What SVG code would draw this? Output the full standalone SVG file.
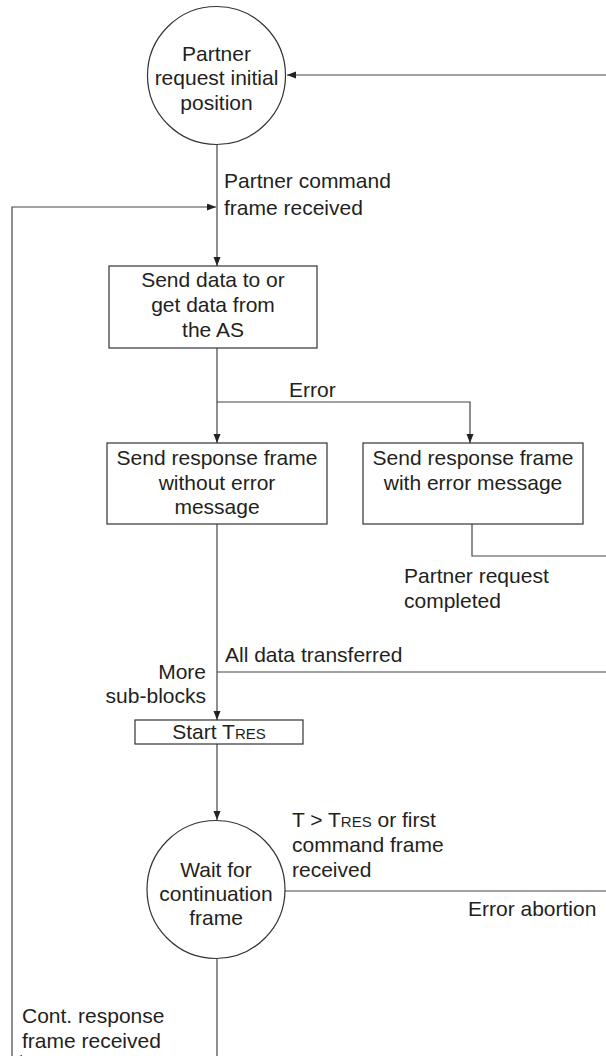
<svg xmlns="http://www.w3.org/2000/svg" width="606" height="1056" viewBox="0 0 606 1056">
<style>
  .t { font-family: "Liberation Sans", Arial, sans-serif; font-size: 21px; fill: #231f20; }
  .c { text-anchor: middle; }
  .r { text-anchor: end; }
  .sc { font-size: 15px; }
  .shape { fill: #ffffff; stroke: #333333; stroke-width: 1.2; }
  .conn { fill: none; stroke: #444444; stroke-width: 1.2; }
</style>
<defs>
  <marker id="arr" markerUnits="userSpaceOnUse" markerWidth="10" markerHeight="8" refX="9" refY="3.5" orient="auto">
    <path d="M0,0 L9,3.5 L0,7 z" fill="#222222"/>
  </marker>
</defs>
<rect width="606" height="1056" fill="#ffffff"/>

<g id="connectors">
  <path class="conn" d="M606,75 H287" marker-end="url(#arr)"/>
  <path class="conn" d="M217,145 V266" marker-end="url(#arr)"/>
  <path class="conn" d="M12,1056 V207 H216" marker-end="url(#arr)"/>
  <path class="conn" d="M217,348 V443" marker-end="url(#arr)"/>
  <path class="conn" d="M217,402 H470 V443" marker-end="url(#arr)"/>
  <path class="conn" d="M472,524 V556 H606"/>
  <path class="conn" d="M217,524 V720" marker-end="url(#arr)"/>
  <path class="conn" d="M217,672 H606"/>
  <path class="conn" d="M217,744 V820" marker-end="url(#arr)"/>
  <path class="conn" d="M285,891 H606"/>
  <path class="conn" d="M217,959 V1056"/>
  <path class="conn" d="M217,1058.5 H13" marker-end="url(#arr)"/>
</g>

<g id="labels">
  <text class="t" x="224" y="188">Partner command</text>
  <text class="t" x="224" y="215">frame received</text>
  <text class="t" x="289" y="397">Error</text>
  <text class="t" x="404" y="583">Partner request</text>
  <text class="t" x="404" y="608">completed</text>
  <text class="t" x="225" y="662">All data transferred</text>
  <text class="t r" x="206" y="679">More</text>
  <text class="t r" x="206" y="703">sub-blocks</text>
  <text class="t" x="292" y="827">T &gt; T<tspan class="sc">RES</tspan> or first</text>
  <text class="t" x="292" y="852">command frame</text>
  <text class="t" x="292" y="877">received</text>
  <text class="t" x="468" y="916">Error abortion</text>
  <text class="t" x="22" y="1023">Cont. response</text>
  <text class="t" x="22" y="1048">frame received</text>
</g>

<g id="node-partner-request">
  <circle class="shape" cx="216.5" cy="75.5" r="69"/>
  <text class="t c" x="216.5" y="61">Partner</text>
  <text class="t c" x="216.5" y="85">request initial</text>
  <text class="t c" x="216.5" y="110">position</text>
</g>

<g id="node-send-data">
  <rect class="shape" x="109" y="266" width="208" height="82"/>
  <text class="t c" x="213" y="287">Send data to or</text>
  <text class="t c" x="213" y="312">get data from</text>
  <text class="t c" x="213" y="337">the AS</text>
</g>

<g id="node-response-ok">
  <rect class="shape" x="107" y="443" width="220" height="81"/>
  <text class="t c" x="217" y="465">Send response frame</text>
  <text class="t c" x="217" y="490">without error</text>
  <text class="t c" x="217" y="514">message</text>
</g>

<g id="node-response-error">
  <rect class="shape" x="363" y="443" width="220" height="81"/>
  <text class="t c" x="473" y="465">Send response frame</text>
  <text class="t c" x="473" y="490">with error message</text>
</g>

<g id="node-start-tres">
  <rect class="shape" x="135" y="720" width="168" height="24"/>
  <text class="t c" x="219" y="739">Start T<tspan class="sc">RES</tspan></text>
</g>

<g id="node-wait">
  <circle class="shape" cx="216" cy="889.5" r="69"/>
  <text class="t c" x="216" y="877">Wait for</text>
  <text class="t c" x="216" y="901">continuation</text>
  <text class="t c" x="216" y="925">frame</text>
</g>
</svg>
